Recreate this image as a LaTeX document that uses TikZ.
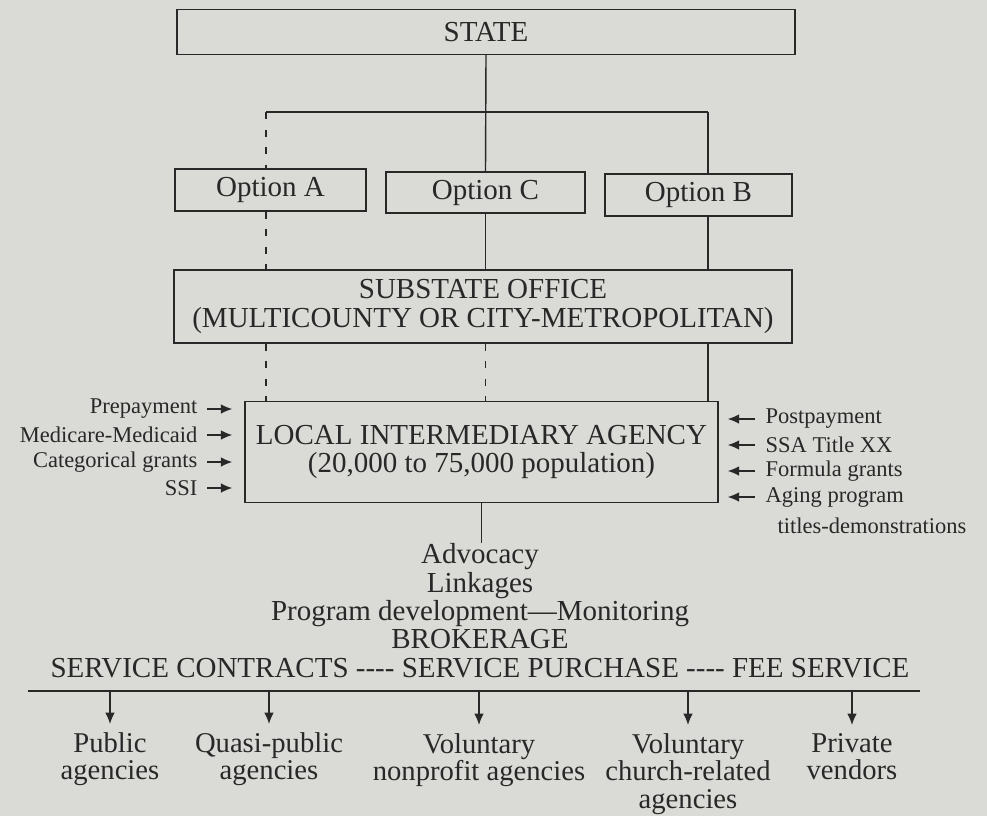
\documentclass[tikz,border=0pt]{standalone}
\usepackage{fontspec}
\setmainfont{Liberation Serif}
\usepackage{tikz}
\usetikzlibrary{arrows.meta}
\definecolor{paper}{RGB}{218,218,215}
\definecolor{ink}{RGB}{40,40,40}
\newcommand{\fourdash}{\mbox{-}\mbox{-}\mbox{-}\mbox{-}}

\begin{document}
\begin{tikzpicture}[x=0.2mm,y=-0.2mm,line width=0.8pt,color=ink,
  >={Latex[length=6.5pt,width=5.5pt]},
  box/.style={draw,inner sep=0pt,align=center,font=\fontsize{16.5}{16}\selectfont},
  lab/.style={inner sep=2pt,font=\fontsize{12.8}{15}\selectfont},
  bot/.style={anchor=north,inner sep=1pt,align=center,font=\fontsize{16.3}{15.6}\selectfont},
  dline/.style={dash pattern=on 4pt off 6pt}]
\fill[paper] (0,0) rectangle (987,816);
\useasboundingbox (0,0) rectangle (987,816);

\node[box,minimum width=123.6mm,minimum height=9mm] (state) at (486,32) {STATE};
\node[box,minimum width=38.2mm,minimum height=8.4mm] (opta) at (270.5,190) {Option A};
\node[box,minimum width=39.8mm,minimum height=8.2mm] (optc) at (485.5,192.5) {Option C};
\node[box,minimum width=37.4mm,minimum height=8.4mm] (optb) at (698.5,195) {Option B};
\node[box,minimum width=123.6mm,minimum height=14.6mm] (sub) at (483,306.5) {SUBSTATE OFFICE\\(MULTICOUNTY OR CITY-METROPOLITAN)};
\node[box,minimum width=94.6mm,minimum height=20.2mm] (loc) at (481.5,452) {LOCAL INTERMEDIARY AGENCY\\(20,000 to 75,000 population)};

\coordinate (busa) at (266,112);
\coordinate (busb) at (708,112);
\draw (busa) -- (busb);
\draw (state.south) -- (optc.north);
\draw[dline] (busa) -- (busa |- opta.north);
\draw (busb) -- (busb |- optb.north);
\draw[dline] (busa |- opta.south) -- (busa |- sub.north);
\draw (optc.south) -- (optc.south |- sub.north);
\draw (busb |- optb.south) -- (busb |- sub.north);
\draw[dline] (busa |- sub.south) -- (busa |- loc.north);
\draw[dline] (optc.south |- sub.south) -- (optc.south |- loc.north);
\draw (busb |- sub.south) -- (busb |- loc.north);

\node[lab,anchor=east] (pre) at (201.5,409) {Prepayment};
\node[lab,anchor=east] (med) at (201.5,435) {Medicare-Medicaid};
\node[lab,anchor=east] (cat) at (201.5,462) {Categorical grants};
\node[lab,anchor=east] (ssi) at (201.5,488) {SSI};
\foreach \n in {pre,med,cat,ssi}
  \draw[->,shorten <=1.1mm,shorten >=2.4mm] (\n.east) -- (\n.east -| loc.west);

\node[lab,anchor=west] (post) at (761.5,419) {Postpayment};
\node[lab,anchor=west] (ssa) at (761.5,445) {SSA Title XX};
\node[lab,anchor=west] (form) at (761.5,471) {Formula grants};
\node[lab,anchor=west] (aging) at (761.5,497) {Aging program};
\node[lab,anchor=west] (titles) at (773.5,526) {titles-demonstrations};
\foreach \n in {post,ssa,form,aging}
  \draw[->,shorten <=1.3mm,shorten >=1.8mm] (\n.west) -- (\n.west -| loc.east);

\node[anchor=north,inner sep=0pt,align=center,font=\fontsize{16.5}{16.1}\selectfont] (brok) at (480,543)
  {Advocacy\\Linkages\\Program development---Monitoring\\BROKERAGE\\SERVICE CONTRACTS \fourdash{} SERVICE PURCHASE \fourdash{} FEE SERVICE};
\draw (loc.south) -- (loc.south |- brok.north);

\coordinate (rulel) at (28,691);
\coordinate (ruler) at (920,691);
\draw (rulel) -- (ruler);

\node[bot] (pub) at (110,730) {Public\\agencies};
\node[bot] (quasi) at (269,730) {Quasi-public\\agencies};
\node[bot] (volnp) at (479,731) {Voluntary\\nonprofit agencies};
\node[bot] (volch) at (688,731) {Voluntary\\church-related\\agencies};
\node[bot] (priv) at (852,731) {Private\\vendors};
\foreach \n in {pub,quasi,volnp,volch,priv}
  \draw[->,shorten >=1.2mm] (\n.north |- rulel) -- (\n.north);

\end{tikzpicture}
\end{document}
